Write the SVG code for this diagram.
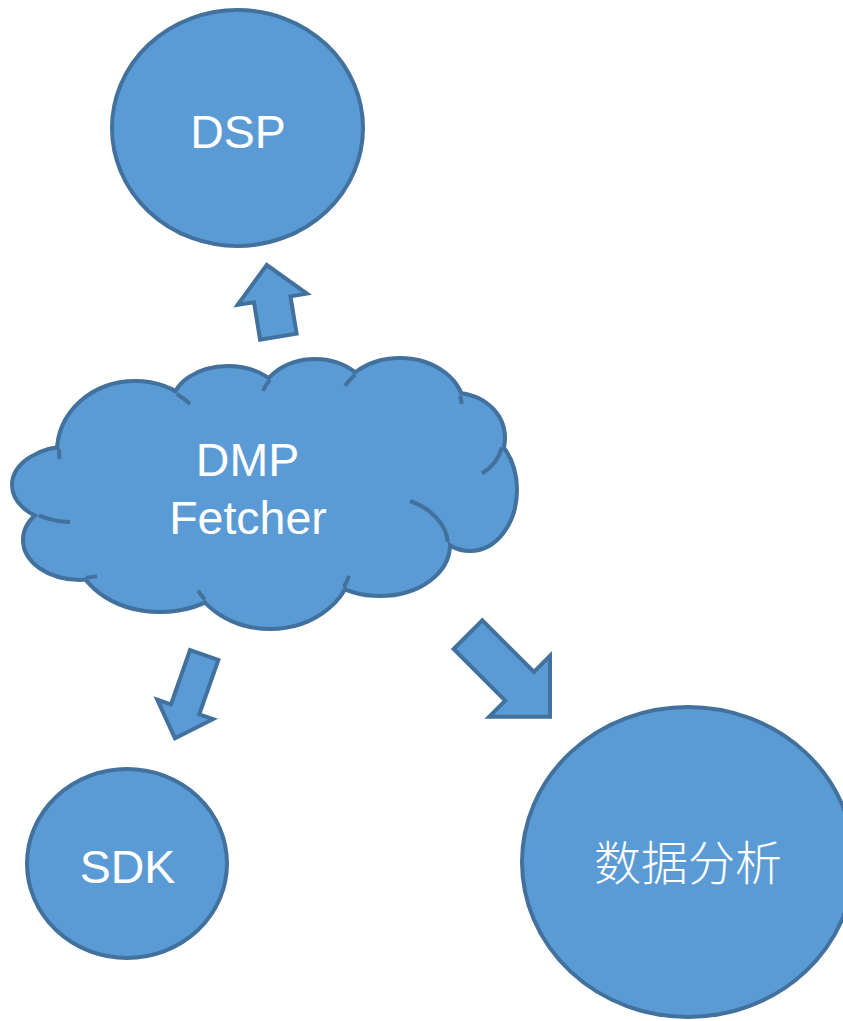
<svg xmlns="http://www.w3.org/2000/svg" xmlns:xlink="http://www.w3.org/1999/xlink" width="843" height="1021" viewBox="0 0 843 1021">
  <style>
    .shape { fill: #5B9BD5; stroke: #41719C; stroke-width: 4; stroke-linejoin: miter; }
    .label { font-family: "Liberation Sans", Arial, sans-serif; font-size: 46.5px; fill: #FFFFFF; text-anchor: middle; }
    .cjk { font-family: "Liberation Sans", "Noto Sans CJK SC", sans-serif; font-size: 47px; font-weight: 300; fill: #FFFFFF; text-anchor: middle; }
    .stub { fill: none; stroke: #41719C; stroke-width: 4; }
  </style>
  <defs>
    <!-- lobes of the cloud: stroked wide first, then filled on top so only the outer rim remains -->
    <g id="lobes">
      <ellipse cx="135" cy="451" rx="76" ry="68"/>
      <ellipse cx="228" cy="405" rx="54" ry="37"/>
      <ellipse cx="315" cy="405" rx="55" ry="44"/>
      <ellipse cx="400" cy="408" rx="62" ry="48"/>
      <ellipse cx="455" cy="438" rx="48" ry="43"/>
      <ellipse cx="470" cy="490" rx="45" ry="59"/>
      <ellipse cx="380" cy="545" rx="68" ry="49"/>
      <ellipse cx="270" cy="557" rx="82" ry="70"/>
      <ellipse cx="160" cy="545" rx="85" ry="65"/>
      <ellipse cx="80" cy="540" rx="55" ry="38"/>
      <ellipse cx="72" cy="485" rx="58" ry="37"/>
    </g>
  </defs>

  <g id="connectors">
    <!-- block arrows, drawn pointing up around their tip, then turned -->
    <polygon class="shape" transform="translate(266.7,265) rotate(-9.2)"
             points="0,0 35,34.7 18.5,34.7 18.5,72.6 -18.5,72.6 -18.5,34.7 -35,34.7"/>
    <polygon class="shape" transform="translate(175,738.3) rotate(199.3)"
             points="0,0 29.5,30.6 15,30.6 15,88.3 -15,88.3 -15,30.6 -29.5,30.6"/>
    <polygon class="shape" transform="translate(550,716.7) rotate(135)"
             points="0,0 43,43 20.3,43 20.3,116 -20.3,116 -20.3,43 -43,43"/>
  </g>

  <g id="node-dsp">
    <ellipse class="shape" cx="237.5" cy="128" rx="125.5" ry="118"/>
    <text class="label" x="238" y="148">DSP</text>
  </g>

  <g id="node-dmp-fetcher">
    <use xlink:href="#lobes" fill="none" stroke="#41719C" stroke-width="8"/>
    <use xlink:href="#lobes" fill="#5B9BD5" stroke="none"/>
    <ellipse cx="270" cy="490" rx="180" ry="70" fill="#5B9BD5"/>
    <!-- inner arc fragments where lobes overlap -->
    <path class="stub" d="M59,449 A76 68 0 0 0 59.5,459"/>
    <path class="stub" d="M177,394.3 A76 68 0 0 1 190,404"/>
    <path class="stub" d="M270,379.7 A55 44 0 0 0 263,390.7"/>
    <path class="stub" d="M355,375 A62 48 0 0 0 345,385.8"/>
    <path class="stub" d="M460,395.9 A62 48 0 0 1 461.8,404"/>
    <path class="stub" d="M501.8,447.5 A48 43 0 0 1 482,473.5"/>
    <path class="stub" d="M447.8,542 A68 49 0 0 0 410,501"/>
    <path class="stub" d="M343.8,587 A82 70 0 0 0 349,575.8"/>
    <path class="stub" d="M205,599.7 A82 70 0 0 1 198,590.5"/>
    <path class="stub" d="M86,577.8 A55 38 0 0 0 97,576.1"/>
    <path class="stub" d="M39,515.4 A58 37 0 0 0 70,522"/>
    <text class="label" x="247.5" y="476">DMP</text>
    <text class="label" x="248" y="534">Fetcher</text>
  </g>

  <g id="node-sdk">
    <ellipse class="shape" cx="127" cy="863.5" rx="100" ry="94.5"/>
    <text class="label" x="127.5" y="883">SDK</text>
  </g>

  <g id="node-analysis">
    <ellipse class="shape" cx="688" cy="862" rx="166" ry="155"/>
    <text class="cjk" x="688" y="880">数据分析</text>
  </g>
</svg>
